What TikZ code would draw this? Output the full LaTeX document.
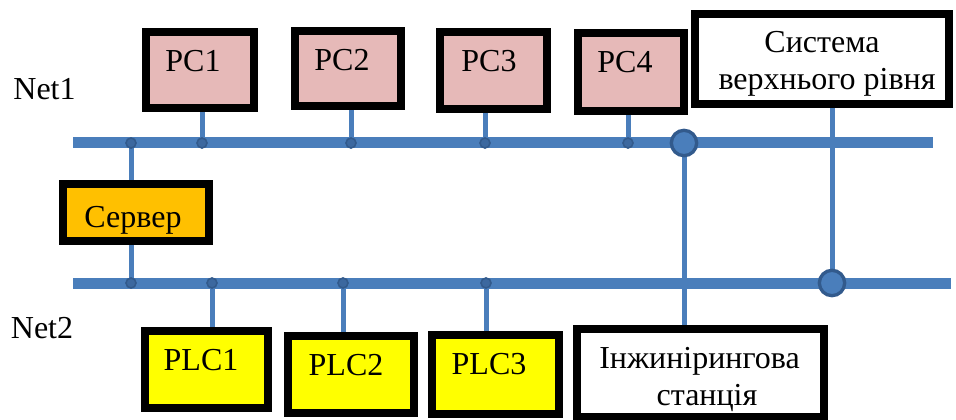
\documentclass[tikz,border=0pt]{standalone}
\usepackage{fontspec}
\setmainfont{Liberation Serif}
\definecolor{bus}{HTML}{4A7EBB}
\definecolor{busdark}{HTML}{325A8C}
\definecolor{pcpink}{HTML}{E6B9B8}
\definecolor{srvorange}{HTML}{FFC000}
\definecolor{plcyellow}{HTML}{FFFF00}
\begin{document}
\begin{tikzpicture}[x=0.75pt, y=-0.75pt,
  box/.style 2 args={draw=black, line width=6pt, inner sep=0pt,
    minimum width=#1*0.75pt, minimum height=#2*0.75pt},
  lbl/.style={font=\fontsize{24}{26}\selectfont, anchor=base, inner sep=0pt},
  busline/.style={draw=bus, line width=8.25pt},
  drop/.style={draw=bus, line width=3.75pt},
  dot/.style={circle, fill=busdark!60!bus, draw=busdark, line width=1.2pt, inner sep=0pt, minimum size=7.5pt},
  bigdot/.style={circle, fill=bus, draw=busdark, line width=2.5pt, inner sep=0pt, minimum size=19pt}]
\useasboundingbox (0,0) rectangle (956,420);

% devices
\node[box={108}{76}, fill=pcpink] (pc1) at (200,70) {};
\node[box={106}{75}, fill=pcpink] (pc2) at (348,68.5) {};
\node[box={107}{77}, fill=pcpink] (pc3) at (493.5,70.5) {};
\node[box={106}{78}, fill=pcpink] (pc4) at (631,72) {};
\node[box={254}{90}, fill=white] (sys) at (822,59) {};
\node[box={146}{57}, fill=srvorange] (srv) at (136,212.5) {};
\node[box={123}{77}, fill=plcyellow] (plc1) at (206.5,369.5) {};
\node[box={126}{77}, fill=plcyellow] (plc2) at (351,374.5) {};
\node[box={127}{79}, fill=plcyellow] (plc3) at (495.5,374.5) {};
\node[box={247}{88}, fill=white] (eng) at (700.5,373) {};

% captions
\node[lbl] (tnet1) at (44.5,100) {Net1};
\node[lbl] (tnet2) at (42,338) {Net2};
\node[lbl] (tpc1) at (193,72) {PC1};
\node[lbl] (tpc2) at (342,71) {PC2};
\node[lbl] (tpc3) at (489,72) {PC3};
\node[lbl] (tpc4) at (625,73) {PC4};
\node[lbl] (tsys1) at (822,53) {Система};
\node[lbl] (tsys2) at (827,90) {верхнього рівня};
\node[lbl] (tsrv) at (133,228) {Сервер};
\node[lbl] (tplc1) at (201,370) {PLC1};
\node[lbl] (tplc2) at (346,375) {PLC2};
\node[lbl] (tplc3) at (489,374) {PLC3};
\node[lbl] (teng1) at (699.5,368) {Інжинірингова};
\node[lbl] (teng2) at (707,405) {станція};

% bus ends and taps
\coordinate (n1a) at (73,143);
\coordinate (n1b) at (933,143);
\coordinate (n2a) at (73,283);
\coordinate (n2b) at (951,283);
\coordinate (ts1) at (131,143);
\coordinate (ts2) at (131,283);
\coordinate (tp1) at (202,143);
\coordinate (tp2) at (351,143);
\coordinate (tp3) at (485,143);
\coordinate (tp4) at (628,143);
\coordinate (te) at (684,143);
\coordinate (tl1) at (212,283);
\coordinate (tl2) at (343,283);
\coordinate (tl3) at (486,283);
\coordinate (ty) at (832,283);

% buses
\draw[busline] (n1a) -- (n1b);
\draw[busline] (n2a) -- (n2b);

% drops
\draw[drop] (ts1) -- (ts1 |- srv.north);
\draw[drop] (srv.south -| ts2) -- (ts2);
\draw[drop] (pc1.south -| tp1) -- (tp1);
\draw[drop] (pc2.south -| tp2) -- (tp2);
\draw[drop] (pc3.south -| tp3) -- (tp3);
\draw[drop] (pc4.south -| tp4) -- (tp4);
\draw[drop] (te) -- (te |- eng.north);
\draw[drop] (sys.south -| ty) -- (ty);
\draw[drop] (tl1) -- (tl1 |- plc1.north);
\draw[drop] (tl2) -- (tl2 |- plc2.north);
\draw[drop] (tl3) -- (tl3 |- plc3.north);

% junctions
\node[dot] (js1) at (ts1) {};
\node[dot] (js2) at (ts2) {};
\node[dot] (jp1) at (tp1) {};
\node[dot] (jp2) at (tp2) {};
\node[dot] (jp3) at (tp3) {};
\node[dot] (jp4) at (tp4) {};
\node[dot] (jl1) at (tl1) {};
\node[dot] (jl2) at (tl2) {};
\node[dot] (jl3) at (tl3) {};
\node[bigdot] (je) at (te) {};
\node[bigdot] (jy) at (ty) {};
\end{tikzpicture}
\end{document}
